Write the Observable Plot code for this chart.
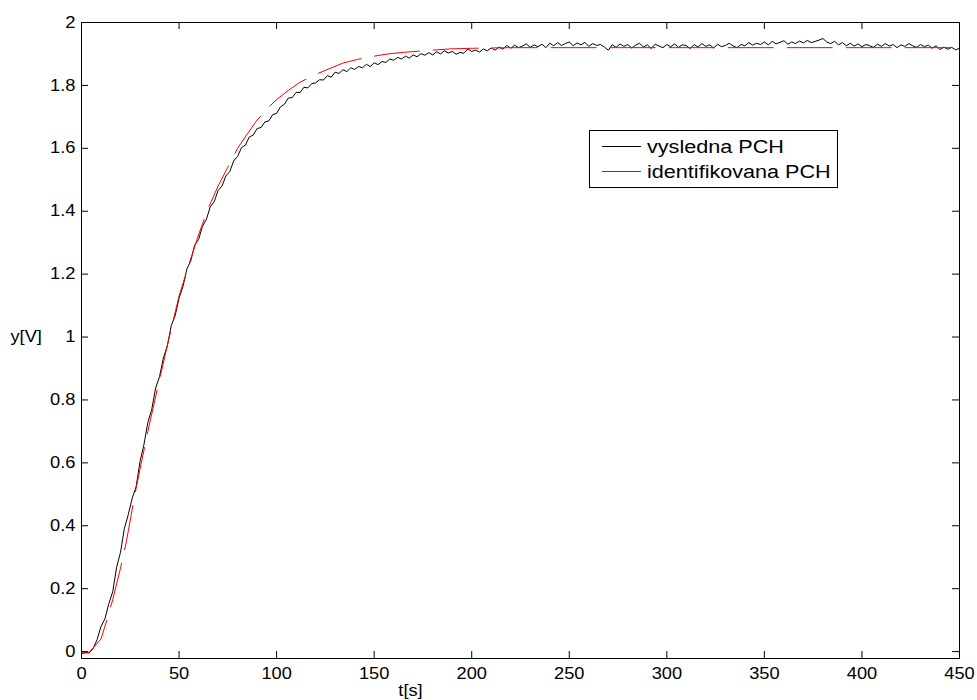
<!DOCTYPE html>
<html><head><meta charset="utf-8">
<script src="https://cdn.jsdelivr.net/npm/d3@7"></script>
<script src="https://cdn.jsdelivr.net/npm/@observablehq/plot@0.6"></script>
<style>
body{margin:0;background:#fff;}
#wrap{position:relative;width:977px;height:700px;font-family:"Liberation Sans",Arial,sans-serif;}
</style>
</head><body>
<div id="wrap"></div>
<script>
// ---- data ----
const xTicks = [0, 50, 100, 150, 200, 250, 300, 350, 400, 450];
const xTickLabels = ["0", "50", "100", "150", "200", "250", "300", "350", "400", "450"];
const yTicks = [0, 0.2, 0.4, 0.6, 0.8, 1, 1.2, 1.4, 1.6, 1.8, 2];
const yTickLabels = ["0", "0.2", "0.4", "0.6", "0.8", "1", "1.2", "1.4", "1.6", "1.8", "2"];
const xLabel = "t[s]";
const yLabel = "y[V]";
const seriesNames = ["vysledna PCH", "identifikovana PCH"];

// measured response, sampled every 2 s (t = 0 .. 450)
const measuredStep = 2;
const measuredY = [
 -0.006,-0.004,-0.004,0.010,0.038,0.080,0.104,0.152,0.190,0.268,
 0.316,0.392,0.436,0.488,0.524,0.604,0.658,0.728,0.770,0.838,
 0.874,0.934,0.972,1.036,1.068,1.124,1.160,1.216,1.242,1.292,
 1.310,1.352,1.374,1.414,1.430,1.466,1.480,1.512,1.526,1.560,
 1.574,1.602,1.610,1.636,1.642,1.663,1.666,1.684,1.687,1.707,
 1.711,1.732,1.740,1.760,1.761,1.778,1.777,1.794,1.792,1.806,
 1.808,1.818,1.817,1.831,1.826,1.842,1.838,1.850,1.844,1.856,
 1.851,1.860,1.856,1.867,1.860,1.872,1.866,1.876,1.873,1.884,
 1.880,1.889,1.884,1.893,1.887,1.897,1.891,1.901,1.896,1.904,
 1.897,1.907,1.900,1.910,1.903,1.908,1.899,1.905,1.902,1.916,
 1.908,
 1.912,1.906,1.916,1.910,1.919,1.912,1.922,1.915,1.927,1.918,
 1.928,1.920,1.925,1.932,1.921,1.929,1.923,1.931,1.920,1.934,
 1.926,1.936,1.927,1.933,1.938,1.926,1.935,1.929,1.937,1.924,
 1.933,1.927,1.930,1.922,1.912,1.929,1.921,1.932,1.924,1.930,
 1.919,1.928,1.934,1.922,1.929,1.917,1.931,1.925,1.920,1.930,
 1.923,1.932,1.921,1.929,1.926,1.917,1.930,1.922,1.933,1.924,
 1.929,1.919,1.931,1.923,1.927,1.934,1.925,1.920,1.930,1.926,
 1.936,1.928,1.934,1.930,1.938,1.929,1.940,1.932,1.937,1.942,
 1.931,1.938,1.933,1.941,1.935,1.943,1.936,1.940,1.944,1.949,
 1.938,1.933,1.940,1.929,1.936,1.926,1.934,1.925,1.932,1.923,
 1.930,1.926,1.921,1.931,1.924,1.933,1.925,1.930,1.920,1.929,
 1.924,1.933,1.926,1.921,1.930,1.923,1.928,1.918,1.926,1.914,
 1.922,1.915,1.921,1.913,1.918
];

// identified model response
const modelT = [0, 4, 10, 13, 16, 20, 23, 28, 34, 40, 45, 50, 55, 60, 65, 70, 75, 80, 85, 90, 95, 100, 106, 112, 120, 127, 134, 145, 157, 165, 175, 189, 200, 220, 250, 300, 350, 400, 450];
const modelY = [-0.005, -0.002, 0.04, 0.1, 0.165, 0.265, 0.35, 0.52, 0.7, 0.865, 1.0, 1.13, 1.23, 1.325, 1.41, 1.48, 1.54, 1.6, 1.646, 1.69, 1.725, 1.755, 1.784, 1.81, 1.835, 1.853, 1.871, 1.888, 1.9, 1.905, 1.91, 1.916, 1.918, 1.92, 1.92, 1.92, 1.92, 1.92, 1.92];

// ---- tables ----
const measured = measuredY.map((y, i) => ({t: i * measuredStep, y}));
const model = modelT.map((t, i) => ({t, y: modelY[i]}));
const xLab = new Map(xTicks.map((d, i) => [d, xTickLabels[i]]));
const yLab = new Map(yTicks.map((d, i) => [d, yTickLabels[i]]));

const W = 977, H = 700, mL = 81, mR = 18, mT = 22, mB = 42;
const innerW = W - mL - mR, innerH = H - mT - mB, tick = 7;
const FONT = '"Liberation Sans", Arial, sans-serif';

const chart = Plot.plot({
  width: W, height: H,
  marginLeft: mL, marginRight: mR, marginTop: mT, marginBottom: mB,
  style: {fontFamily: FONT, fontSize: "16px", color: "#000", background: "#fff"},
  x: {domain: [0, 450]},
  y: {domain: [-0.022, 2]},
  marks: [
    Plot.line(measured, {x: "t", y: "y", stroke: "#000", strokeWidth: 1, clip: true}),
    Plot.line(model, {x: "t", y: "y", stroke: "#ff0000", strokeWidth: 1, strokeDasharray: "45,14", clip: true}),
    Plot.frame({stroke: "#000", strokeWidth: 1}),
    Plot.ruleX(xTicks, {x: d => d, insetTop: innerH - tick, stroke: "#000"}),
    Plot.ruleX(xTicks, {x: d => d, insetBottom: innerH - tick, stroke: "#000"}),
    Plot.ruleY(yTicks, {y: d => d, insetRight: innerW - tick, stroke: "#000"}),
    Plot.ruleY(yTicks, {y: d => d, insetLeft: innerW - tick, stroke: "#000"}),
    Plot.axisX(xTicks, {anchor: "bottom", tickSize: 0, tickPadding: 9, label: null, tickFormat: d => xLab.get(d), fontSize: 16}),
    Plot.axisY(yTicks, {anchor: "left", tickSize: 0, tickPadding: 6, label: null, tickFormat: d => yLab.get(d), fontSize: 16}),
    Plot.text([xLabel], {text: d => d, frameAnchor: "bottom", dx: -110, dy: 32, lineAnchor: "middle", fontSize: 16}),
    Plot.text([yLabel], {text: d => d, frameAnchor: "left", textAnchor: "start", dx: -71, dy: -4, lineAnchor: "middle", fontSize: 16})
  ]
});
const wrap = document.getElementById("wrap");
wrap.appendChild(chart);

// widen glyphs slightly to match the reference's rendering
function widen(sel, f) {
  sel.each(function () {
    const l = this.getComputedTextLength();
    if (l > 0) {
      this.setAttribute("textLength", (l * f).toFixed(1));
      this.setAttribute("lengthAdjust", "spacingAndGlyphs");
    }
  });
}
widen(d3.select(chart).selectAll("text"), 1.14);

// legend
const colors = ["#000", "#ff0000"];
const ns = "http://www.w3.org/2000/svg";
const lg = document.createElementNS(ns, "svg");
lg.setAttribute("width", 249); lg.setAttribute("height", 58);
lg.style.position = "absolute"; lg.style.left = "589px"; lg.style.top = "130px";
const rect = document.createElementNS(ns, "rect");
rect.setAttribute("x", 0.5); rect.setAttribute("y", 0.5); rect.setAttribute("width", 248); rect.setAttribute("height", 57);
rect.setAttribute("fill", "#fff"); rect.setAttribute("stroke", "#000");
lg.appendChild(rect);
seriesNames.forEach((name, i) => {
  const yy = 16 + i * 25;
  const ln = document.createElementNS(ns, "line");
  ln.setAttribute("x1", 13); ln.setAttribute("x2", 52);
  ln.setAttribute("y1", yy + 0.5); ln.setAttribute("y2", yy + 0.5);
  ln.setAttribute("stroke", colors[i]);
  lg.appendChild(ln);
  const tx = document.createElementNS(ns, "text");
  tx.setAttribute("x", 58); tx.setAttribute("y", yy + 7);
  tx.setAttribute("font-family", FONT);
  tx.setAttribute("font-size", "18px");
  tx.setAttribute("fill", "#000");
  tx.textContent = name;
  lg.appendChild(tx);
});
wrap.appendChild(lg);
widen(d3.select(lg).selectAll("text"), 1.2);
</script>
</body></html>
